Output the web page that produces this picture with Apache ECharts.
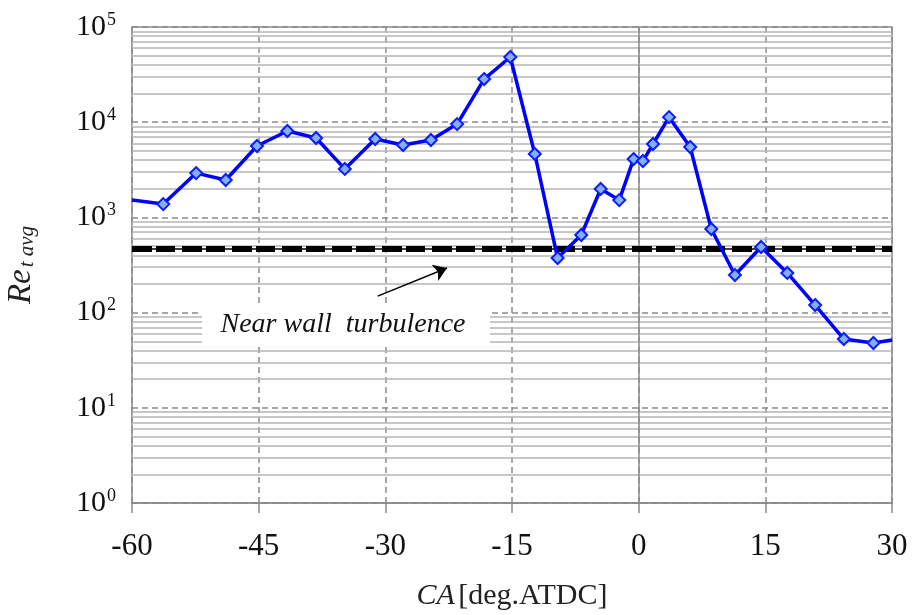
<!DOCTYPE html>
<html>
<head>
<meta charset="utf-8">
<title>Re_t avg vs CA</title>
<script src="https://cdn.jsdelivr.net/npm/echarts@6/dist/echarts.min.js"></script>
<style>
  html, body { margin: 0; padding: 0; background: #fff; }
  #chart { width: 914px; height: 615px; }
</style>
</head>
<body>
<div id="chart"></div>
<script>
// crank angle [deg ATDC] and averaged turbulent Reynolds number
var ca = [-60, -56.3, -52.4, -48.9, -45.2, -41.6, -38.2, -34.8, -31.2, -27.9, -24.6, -21.5,
          -18.3, -15.2, -12.3, -9.6, -6.8, -4.5, -2.3, -0.6, 0.5, 1.7, 3.6, 6.1, 8.6,
          11.4, 14.5, 17.6, 20.9, 24.3, 27.8, 30];
var reAvg = [1520, 1380, 2920, 2470, 5620, 8090, 6820, 3230, 6660, 5760, 6500, 9550,
             28400, 48400, 4640, 374, 653, 1990, 1520, 4100, 3910, 5900, 11300, 5490, 755,
             248, 489, 261, 120, 52.8, 47.9, 51.5];
var nearWall = 465;

var serif = 'Liberation Serif';

// minor grid lines 2..9 x 10^k
var minorLines = [];
for (var k = 0; k < 5; k++) {
    for (var m = 2; m <= 9; m++) {
        minorLines.push({ yAxis: m * Math.pow(10, k) });
    }
}

var lineData = [];
for (var i = 0; i < ca.length; i++) {
    var item = { value: [ca[i], reAvg[i]] };
    if (i === 0 || i === ca.length - 1) item.symbol = 'none';
    lineData.push(item);
}

var chart = echarts.init(document.getElementById('chart'));
chart.setOption({
    animation: false,
    grid: {
        left: 132, right: 22, top: 27, bottom: 112,
        outerBoundsMode: 'none', containLabel: false,
        show: true, borderColor: '#8a8a8a', borderWidth: 1.5
    },
    xAxis: {
        type: 'value', min: -60, max: 30, interval: 15,
        name: '{i|CA} {n|[deg.ATDC]}',
        nameLocation: 'middle', nameGap: 78,
        nameTextStyle: {
            rich: {
                i: { fontFamily: serif, fontStyle: 'italic', fontSize: 30, color: '#222' },
                n: { fontFamily: serif, fontSize: 30, color: '#222' }
            }
        },
        axisLine: { lineStyle: { color: '#8a8a8a', width: 1.5 } },
        axisTick: { show: true, length: 10, lineStyle: { color: '#8a8a8a', width: 1.5 } },
        axisLabel: { fontFamily: serif, fontSize: 31, color: '#111', margin: 28 },
        splitLine: { show: true, lineStyle: { color: '#8a8a8a', type: [6, 4], width: 1.5 } }
    },
    yAxis: {
        type: 'log', logBase: 10, min: 1, max: 100000,
        name: '{r|Re}{s|t avg}',
        nameLocation: 'middle', nameGap: 94, nameRotate: 90,
        nameTextStyle: {
            rich: {
                r: { fontFamily: serif, fontStyle: 'italic', fontSize: 33, color: '#222' },
                s: { fontFamily: serif, fontStyle: 'italic', fontSize: 21, color: '#222', verticalAlign: 'bottom', padding: [12, 0, 0, 2] }
            }
        },
        axisLine: { show: false },
        axisTick: { show: false },
        axisLabel: {
            margin: 16,
            formatter: function (v) {
                return '{a|10}{b|' + Math.round(Math.log10(v)) + '}';
            },
            rich: {
                a: { fontFamily: serif, fontSize: 30, color: '#111' },
                b: { fontFamily: serif, fontSize: 18, color: '#111', verticalAlign: 'top', padding: [0, 0, 14, 1] }
            }
        },
        splitLine: { show: true, lineStyle: { color: '#8a8a8a', type: [6, 4], width: 1.5 } }
    },
    series: [
        {
            // minor grid + solid zero line
            type: 'line', data: [], silent: true, z: 1,
            markLine: {
                silent: true, symbol: 'none', label: { show: false },
                lineStyle: { color: '#b4b4b4', type: 'solid', width: 1.5 },
                data: minorLines.concat([{ xAxis: 0, lineStyle: { color: '#8a8a8a', width: 1.5 } }])
            }
        },
        {
            // near wall turbulence threshold
            type: 'line', data: [], silent: true, z: 3,
            markLine: {
                silent: true, symbol: 'none', label: { show: false },
                data: [
                    { yAxis: nearWall, lineStyle: { color: '#000', type: 'solid', width: 1.5 } },
                    { yAxis: nearWall, lineStyle: { color: '#000', type: [20, 4, 19, 7], width: 6 } }
                ]
            }
        },
        {
            type: 'line', data: [], silent: true, z: 5,
            markLine: {
                silent: true, symbol: ['none', 'arrow'], symbolSize: 13, label: { show: false },
                lineStyle: { color: '#000', type: 'solid', width: 1.5 },
                data: [[{ coord: [-30.9, 149] }, { coord: [-22.7, 294] }]]
            }
        },
        {
            type: 'line', data: lineData, z: 6,
            lineStyle: { color: '#0000ff', width: 3.5 },
            symbol: 'diamond', symbolSize: 12,
            itemStyle: { color: '#86aef0', borderColor: '#0a1eff', borderWidth: 2 }
        }
    ],
    graphic: [
        { type: 'rect', z: 50, shape: { x: 202, y: 306, width: 288, height: 38 }, style: { fill: '#fff' } },
        {
            type: 'text', z: 51, x: 343, y: 325,
            style: {
                text: 'Near wall  turbulence', fontFamily: serif, fontStyle: 'italic', fontSize: 28,
                fill: '#111', textAlign: 'center', textVerticalAlign: 'middle'
            }
        }
    ]
});
</script>
</body>
</html>
